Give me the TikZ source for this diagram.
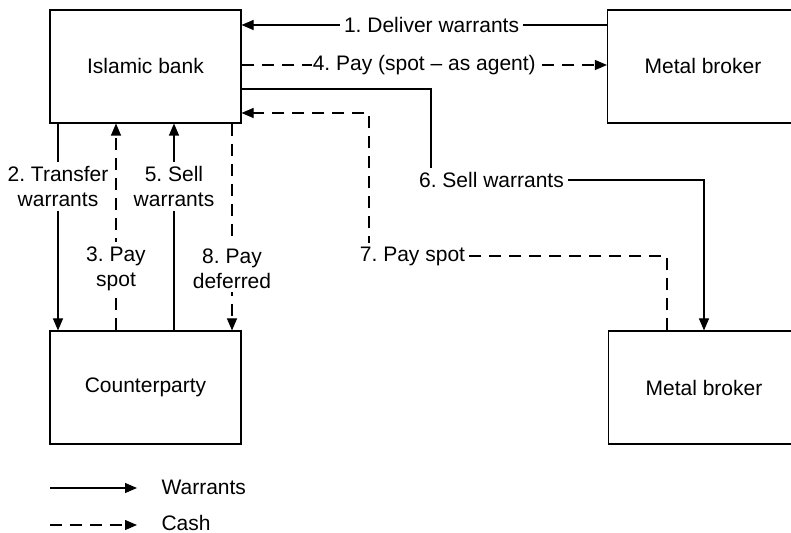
\documentclass[tikz,border=0pt]{standalone}
\usepackage{fontspec}
\setmainfont{Liberation Sans}
\usetikzlibrary{arrows.meta}
\frenchspacing

\tikzset{
  party/.style={draw, minimum width=95.5pt, minimum height=56.5pt, inner sep=0pt},
  lbl/.style={fill=white, inner sep=2pt, align=center},
  warr/.style={-{Triangle[length=6pt,width=5pt]}},
  cash/.style={warr, dash pattern=on 6pt off 4pt},
}

\begin{document}
\begin{tikzpicture}[x=0.5pt, y=-0.5pt, line width=0.55pt, font=\fontsize{10.5}{12.5}\selectfont]
    \useasboundingbox (0,0) rectangle (791,533);

    % the parties
    \node[party] (bank) at (145.5,66.5) {Islamic bank};
    \node[party] (brokerA) at (703,66.5) {Metal broker};
    \node[party] (cparty) at (145.5,387.5) {Counterparty};
    \node[party] (brokerB) at (704,387.5) {Metal broker};

    % rows and columns of the connectors
    \coordinate (r1) at (0,25);
    \coordinate (r4) at (0,65);
    \coordinate (r6) at (0,89);
    \coordinate (r7) at (0,113);
    \coordinate (c2) at (58,0);
    \coordinate (c3) at (116,0);
    \coordinate (c5) at (174,0);
    \coordinate (c8) at (232,0);
    \coordinate (k6) at (431,180);
    \coordinate (k7) at (369,256);
    \coordinate (c7) at (667,0);

    % bank and first broker
    \draw[warr] (brokerA.west |- r1) -- node[lbl, pos=0.48] (l1) {1. Deliver warrants} (bank.east |- r1);
    \draw[cash] (bank.east |- r4) -- node[lbl, inner sep=0.5pt] (l4) {4. Pay (spot -- as agent)} (brokerA.west |- r4);

    % bank and counterparty
    \draw[warr] (bank.south -| c2) -- node[lbl, pos=0.305] (l2) {2. Transfer\\warrants} (cparty.north -| c2);
    \draw[cash] (cparty.north -| c3) -- node[lbl, pos=0.30] (l3) {3. Pay\\spot} (bank.south -| c3);
    \draw[warr] (cparty.north -| c5) -- node[lbl, pos=0.695] (l5) {5. Sell\\warrants} (bank.south -| c5);
    \draw[cash] (bank.south -| c8) -- node[lbl, pos=0.70] (l8) {8. Pay\\deferred} (cparty.north -| c8);

    % bank and second broker
    \draw[warr] (bank.east |- r6) -| (k6) -- (k6 -| brokerB.north) -- (brokerB.north);
    \node[lbl] (l6) at (491.5,180) {6. Sell warrants};
    \draw[cash] (brokerB.north -| c7) |- (k7) |- (bank.east |- r7);
    \node[lbl] (l7) at (412.5,256) {7. Pay spot};

    % key
    \coordinate (w0) at (50,488);
    \coordinate (w1) at (137,488);
    \coordinate (m0) at (50,525);
    \coordinate (m1) at (137,525);
    \draw[warr] (w0) -- (w1);
    \draw[cash] (m0) -- (m1);
    \node[anchor=west, inner sep=0pt] (kw) at (161,487) {Warrants};
    \node[anchor=west, inner sep=0pt] (kc) at (161,523) {Cash};
\end{tikzpicture}
\end{document}
